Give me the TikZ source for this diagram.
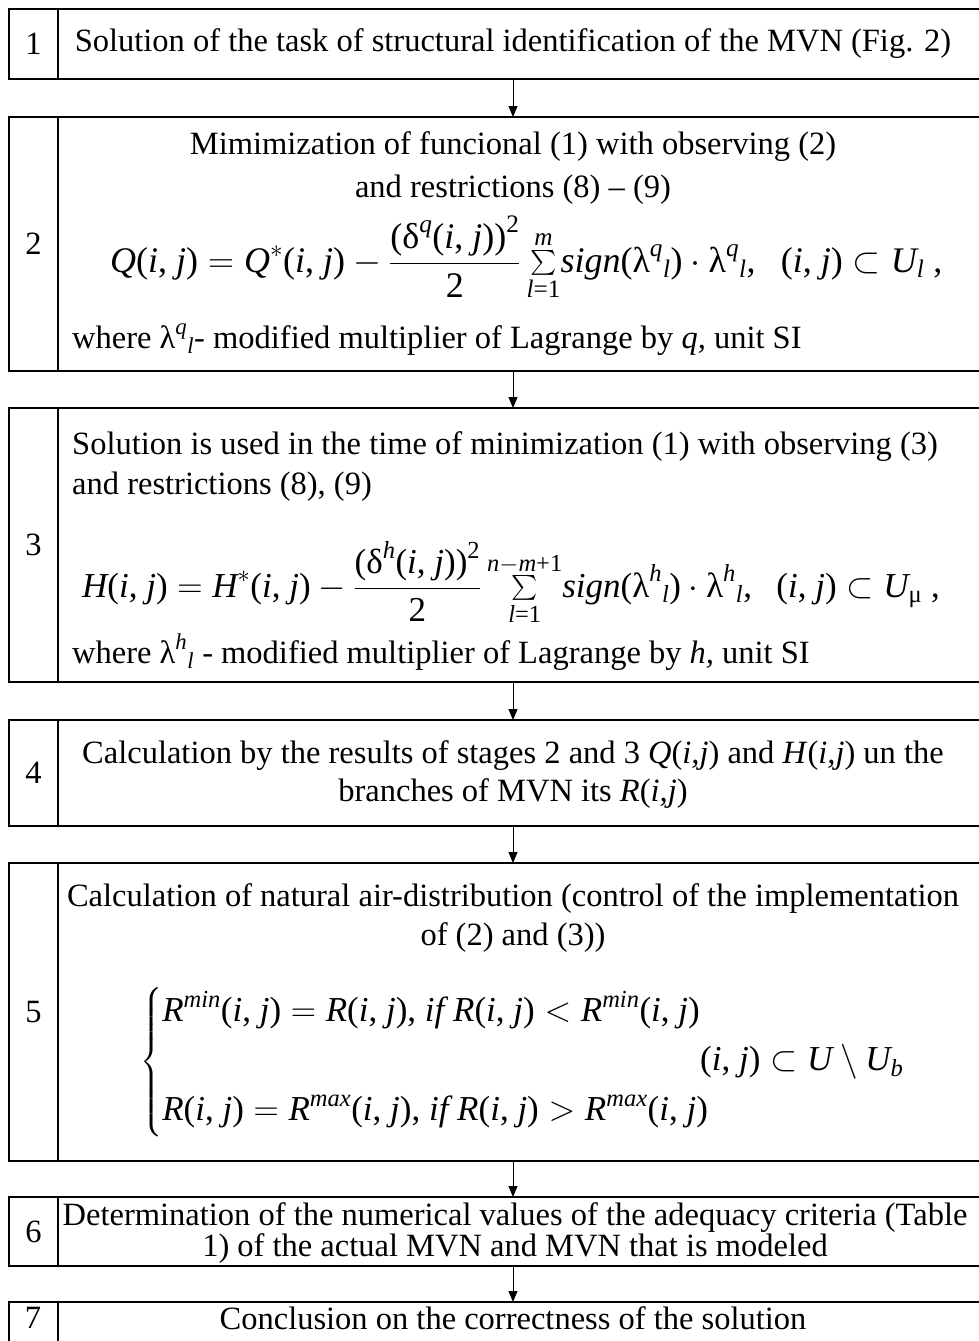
\RequirePackage{fix-cm}
\documentclass[tikz,border=0pt]{standalone}
\usepackage{amsmath}
\usepackage{fontspec}
\setmainfont{Liberation Serif}
\usetikzlibrary{arrows.meta,positioning}
\newcommand{\vi}[1]{\textit{#1}}
\newcommand{\pij}{\text{(\textit{i}, \textit{j})}}
\newcommand{\lam}{\text{λ}}
\newcommand{\tx}[1]{\text{#1}}

\begin{document}
\begin{tikzpicture}[
    x=1pt, y=-1pt,
    font=\fontsize{32.5}{38}\selectfont,
    stagebox/.style={
        draw=black,
        line width=1.8pt,
        minimum width=1008pt,
        inner sep=0pt,
        outer sep=0pt
    },
    numcell/.style={
        draw=black,
        line width=1.8pt,
        minimum width=49pt,
        inner sep=0pt,
        outer sep=0pt,
        anchor=west
    },
    stagetext/.style={inner sep=0pt},
    formula/.style={inner sep=0pt, font=\fontsize{36}{42}\selectfont},
    arrow/.style={-{Triangle[length=11pt,width=9pt]}, line width=1pt, draw=black},
    node distance=37pt
]
\useasboundingbox (0,0) rectangle (978,1341);
% stage frames
\node[stagebox, minimum height=70pt] (stage1) at (513,44) {};
\node[stagebox, minimum height=254pt, below=38pt of stage1] (stage2) {};
\node[stagebox, minimum height=274pt, below=of stage2] (stage3) {};
\node[stagebox, minimum height=106pt, below=38pt of stage3] (stage4) {};
\node[stagebox, minimum height=298pt, below=of stage4] (stage5) {};
\node[stagebox, minimum height=69pt, below=36pt of stage5] (stage6) {};
\node[stagebox, minimum height=80pt, below=36pt of stage6] (stage7) {};
% number column
\foreach \k/\h in {1/70,2/254,3/274,4/106,5/298,6/69}
    \node[numcell, minimum height=\h pt] (num\k) at (stage\k.west) {\k};
\node[numcell, minimum height=80pt] (num7) at (stage7.west) {};
\node[stagetext] (n7) at (33,1318) {7};
% stage 1
\node[stagetext] (t1) at (513,44) {Solution of the task of structural identification of the MVN (Fig. 2)};
% stage 2
\node[stagetext] (t2a) at (513,147) {Mimimization of funcional (1) with observing (2)};
\node[stagetext] (t2b) at (513,190) {and restrictions (8) -- (9)};
\node[formula, anchor=west] (f2) at (110,258) {$\displaystyle \vi{Q}\pij = \vi{Q}^{*}\pij - \frac{\tx{(δ}^{\vi{q}}\pij\tx{)}^{\tx{2}}}{\tx{2}}\,{\textstyle\sum\limits_{\vi{l}\tx{=1}}^{\vi{m}}}\vi{sign}\tx{(}\lam^{\vi{q}}{}_{\vi{l}}\tx{)}\cdot\lam^{\vi{q}}{}_{\vi{l}}\tx{,}\hspace{0.7em}\pij\subset \vi{U}_{\vi{l}}\ \tx{,}$};
\node[stagetext, anchor=west] (t2c) at (72,340) {where $\lam^{\vi{q}}{}_{\vi{l}}$- modified multiplier of Lagrange by \textit{q,} unit SI};
% stage 3
\node[stagetext, anchor=west] (t3a) at (72,447) {Solution is used in the time of minimization (1) with observing (3)};
\node[stagetext, anchor=west] (t3b) at (72,487) {and restrictions (8), (9)};
\node[formula, anchor=west, font=\fontsize{35}{41}\selectfont] (f3) at (82,583) {$\displaystyle \vi{H}\pij = \vi{H}^{*}\pij - \frac{\tx{(δ}^{\vi{h}}\pij\tx{)}^{\tx{2}}}{\tx{2}}\,{\textstyle\sum\limits_{\vi{l}\tx{=1}}^{\vi{n}-\vi{m}\tx{+1}}}\vi{sign}\tx{(}\lam^{\vi{h}}{}_{\vi{l}}\tx{)}\cdot\lam^{\vi{h}}{}_{\vi{l}}\tx{,}\hspace{0.7em}\pij\subset \vi{U}_{\tx{μ}}\ \tx{,}$};
\node[stagetext, anchor=west] (t3c) at (72,652) {where $\lam^{\vi{h}}{}_{\vi{l}}$ - modified multiplier of Lagrange by \textit{h,} unit SI};
% stage 4
\node[stagetext] (t4a) at (513,756) {Calculation by the results of stages 2 and 3 \textit{Q}(\textit{i,j}) and \textit{H}(\textit{i,j}) un the};
\node[stagetext] (t4b) at (513,794) {branches of MVN its \textit{R}(\textit{i,j})};
% stage 5
\node[stagetext] (t5a) at (513,899) {Calculation of natural air-distribution (control of the implementation};
\node[stagetext] (t5b) at (513,938) {of (2) and (3))};
\node[formula, anchor=west, font=\fontsize{35}{41}\selectfont] (f5) at (140,1062) {$\left\{\begin{array}{@{}l@{}}
    \vi{R}^{\vi{min}}\pij = \vi{R}\pij\tx{,}\ \vi{if}\ \vi{R}\pij < \vi{R}^{\vi{min}}\pij\\[58pt]
    \vi{R}\pij = \vi{R}^{\vi{max}}\pij\tx{,}\ \vi{if}\ \vi{R}\pij > \vi{R}^{\vi{max}}\pij
  \end{array}\right.$};
\node[formula, anchor=west, font=\fontsize{35}{41}\selectfont] (f5r) at (700,1062) {$\pij\subset\vi{U}\setminus\vi{U}_{\vi{b}}$};
% stage 6
\node[stagetext] (t6a) at (515,1218) {Determination of the numerical values of the adequacy criteria (Table};
\node[stagetext] (t6b) at (515,1249) {1) of the actual MVN and MVN that is modeled};
% stage 7
\node[stagetext] (t7) at (513,1318) {Conclusion on the correctness of the solution};
% arrows
\foreach \a/\b in {1/2,2/3,3/4,4/5,5/6,6/7}
    \draw[arrow] (stage\a) -- (stage\b);
\end{tikzpicture}
\end{document}
